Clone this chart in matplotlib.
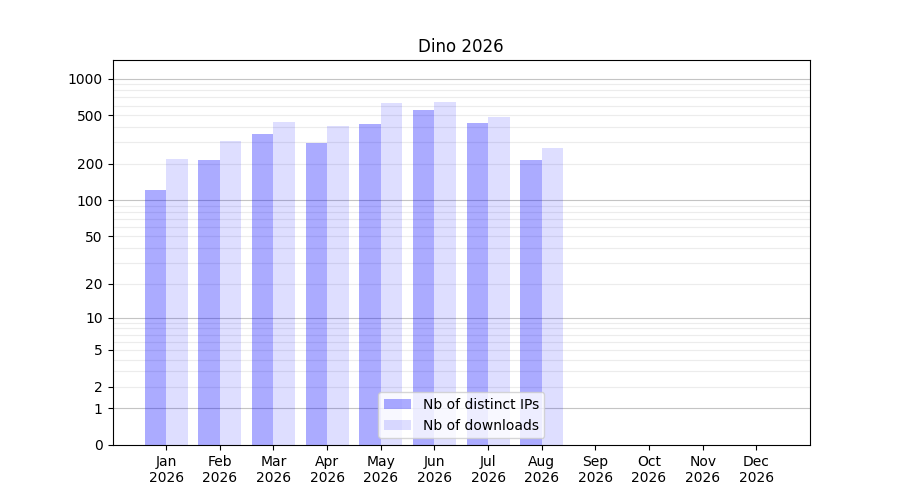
import numpy as np
import matplotlib
matplotlib.use("Agg")
import matplotlib.pyplot as plt

months = ['Jan', 'Feb', 'Mar', 'Apr', 'May', 'Jun', 'Jul', 'Aug', 'Sep', 'Oct', 'Nov', 'Dec']
year = '2026'
distinct_ips = [121, 213, 352, 298, 428, 557, 436, 213, 0, 0, 0, 0]
downloads = [217, 310, 443, 410, 634, 646, 487, 271, 0, 0, 0, 0]
ytick_values = [0, 1, 2, 5, 10, 20, 50, 100, 200, 500, 1000]


def forward(v):
    return np.log10(1 + np.clip(v, 0, None))


def inverse(v):
    return 10 ** v - 1


fig, ax = plt.subplots(figsize=(9, 5), dpi=100)
x = np.arange(len(months))

ax.set_yscale('function', functions=(forward, inverse))

# barres semi-transparentes, l'une a gauche du tick, l'autre a droite
ax.bar(x, distinct_ips, width=-0.4, align='edge', color='blue', alpha=0.33,
       label='Nb of distinct IPs')
ax.bar(x, downloads, width=0.4, align='edge', color='blue', alpha=0.13,
       label='Nb of downloads')

# lignes de grille : decades plus foncees, intermediaires tres claires
for decade in [1, 10, 100]:
    for k in range(2, 10):
        ax.axhline(decade * k, color='#ececec', lw=0.8, zorder=0.5)
for decade in [1, 10, 100, 1000]:
    ax.axhline(decade, color='#c4c4c4', lw=0.8, zorder=0.5)

ax.set_ylim(0, 1420)
ax.set_xlim(-1, len(months))
ax.set_yticks(ytick_values)
ax.set_yticklabels([str(v) for v in ytick_values])
ax.minorticks_off()
ax.set_xticks(x)
ax.set_xticklabels([f'{m}\n{year}' for m in months])

ax.set_title('Dino 2026')
ax.legend(loc='lower center')

fig.savefig('out.png')
